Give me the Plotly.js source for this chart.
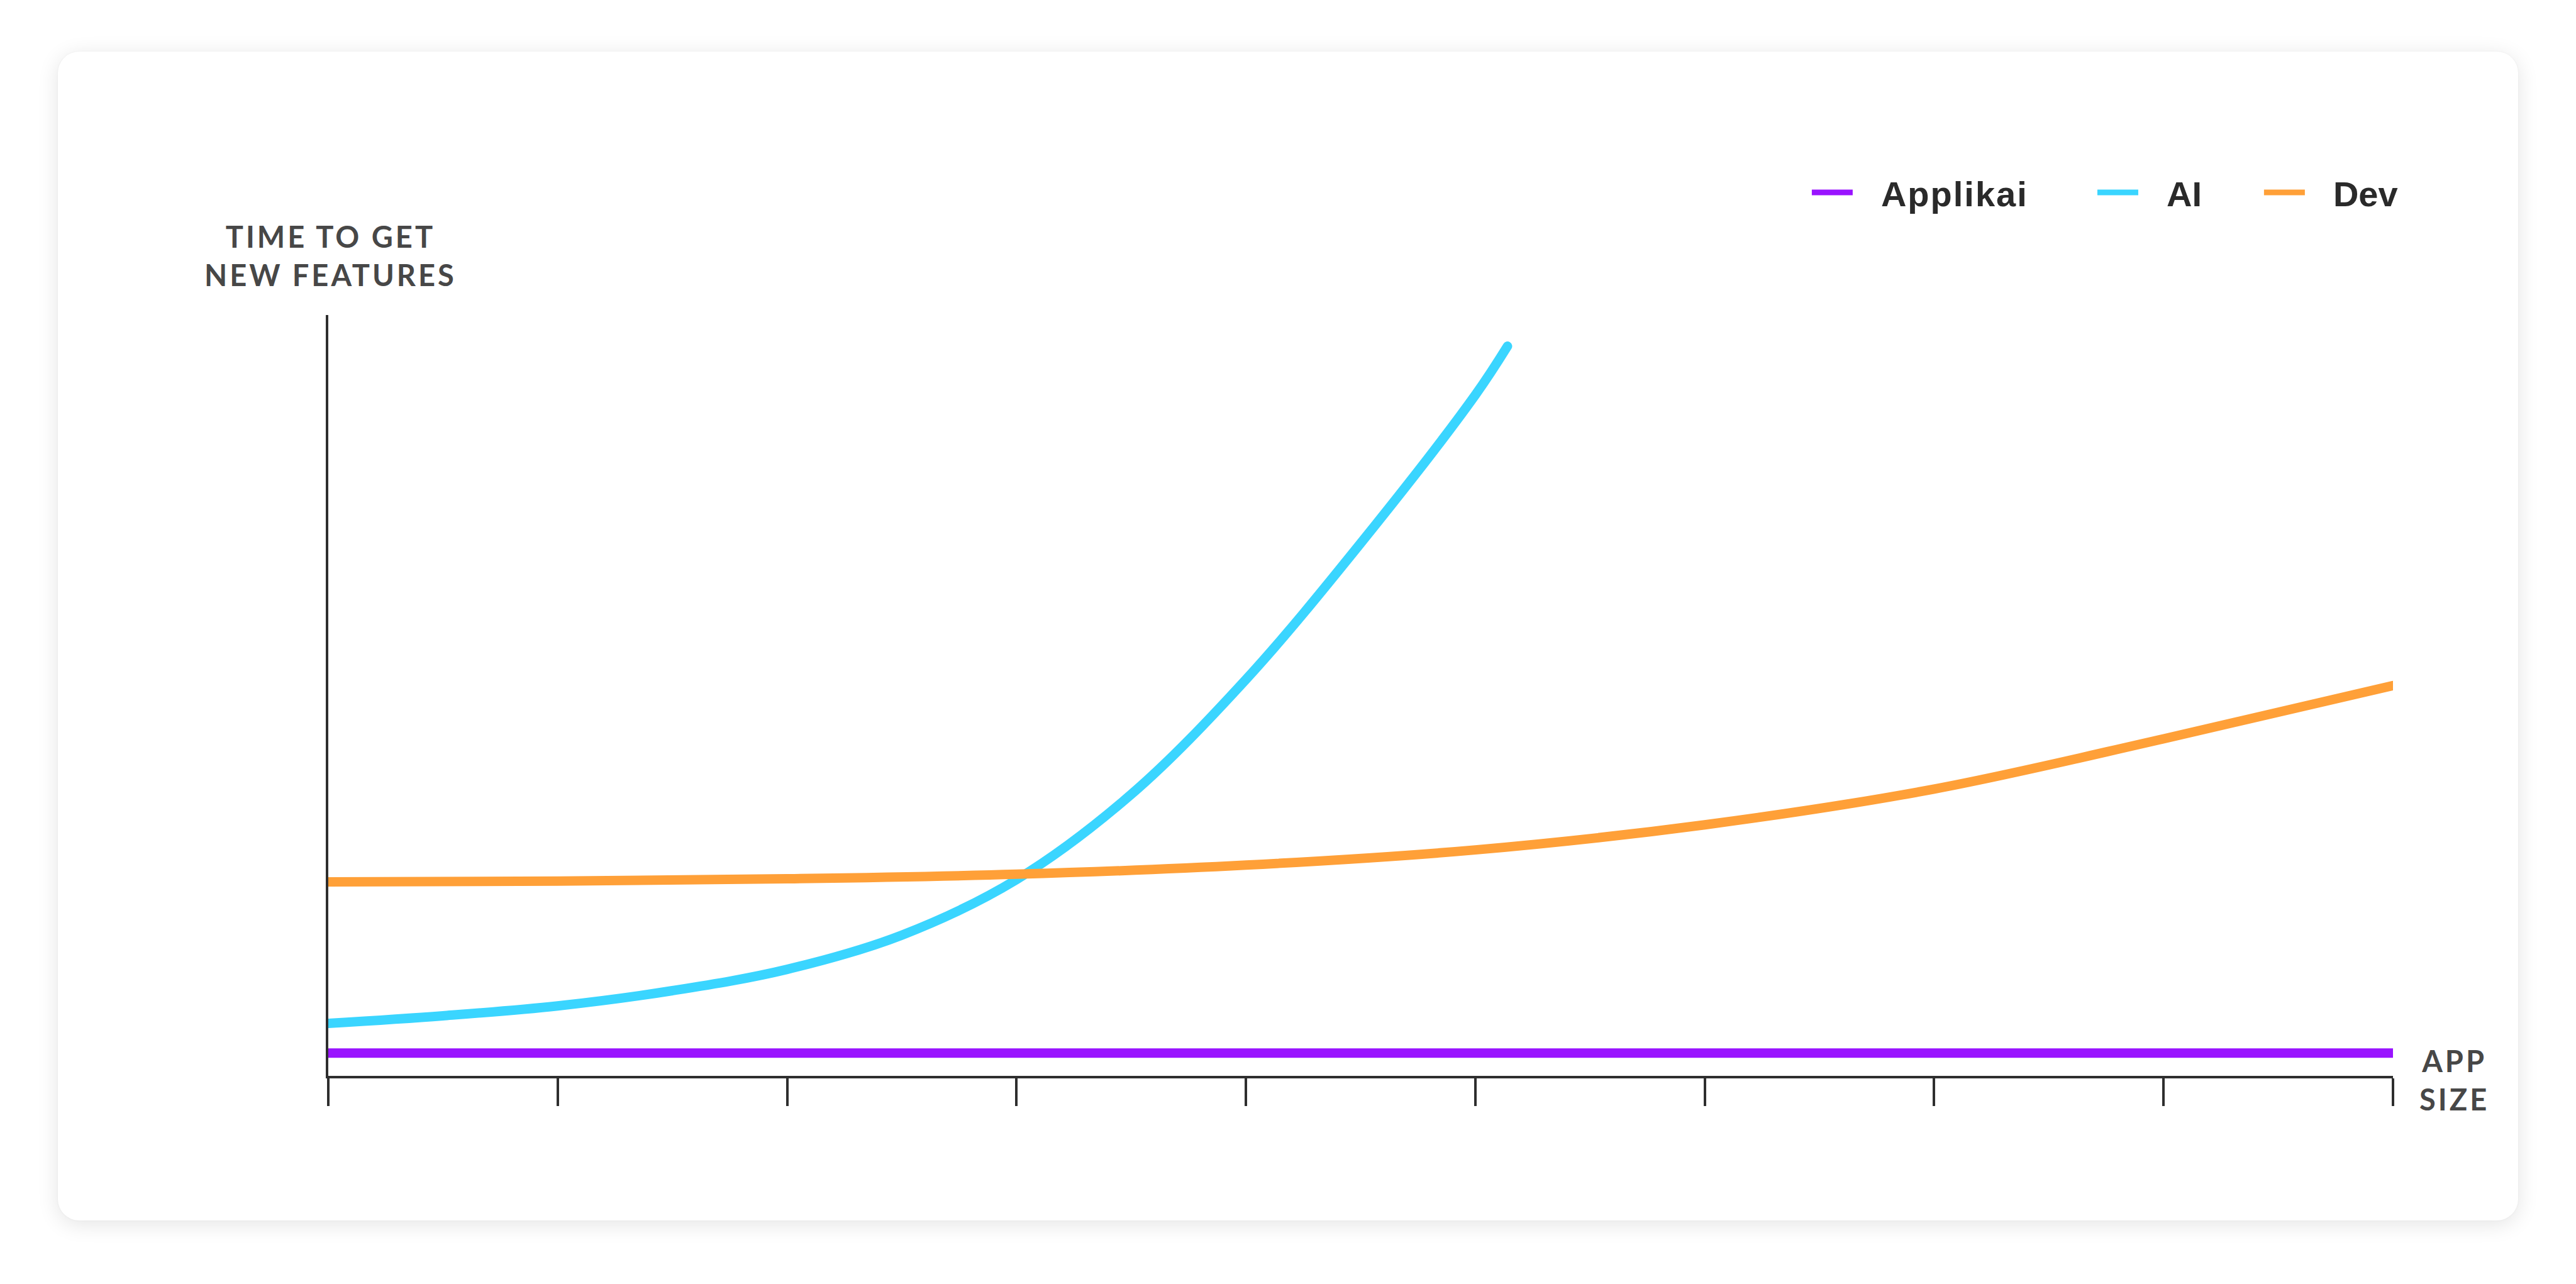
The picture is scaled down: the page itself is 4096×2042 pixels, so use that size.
<!DOCTYPE html>
<html>
<head>
<meta charset="utf-8">
<script src="https://cdn.plot.ly/plotly-3.0.1.min.js"></script>
<style>
  html, body { margin: 0; padding: 0; background: #ffffff; width: 4096px; height: 2042px; overflow: hidden; }
  #card {
    position: absolute; left: 92px; top: 82px; width: 3912px; height: 1859px;
    background: #ffffff; border-radius: 34px;
    box-shadow: 0 6px 34px rgba(0,0,0,0.11), 0 0 3px rgba(0,0,0,0.05);
  }
  #chart { position: absolute; left: 0; top: 0; width: 4096px; height: 2042px; }
  .annotation-text { letter-spacing: 4px; }
  .legendtext { letter-spacing: 2px; }
  g.legendlines path.js-line {
    transform: translate(1.9px, 0px) scaleX(0.619);
    stroke-width: 9px !important;
  }
  .scatterlayer .js-line { stroke-linecap: round; }
</style>
</head>
<body>
<div id="card"></div>
<div id="chart"></div>
<script>
// ---- data ----
const seriesNames = ["Applikai", "AI", "Dev"];
const seriesColors = ["#9913FF", "#3AD5FF", "#FFA038"];

const applikaiX = [0, 9];
const applikaiY = [3.0, 3.0];

const aiX = [0, 0.5, 1, 1.5, 2, 2.5, 3, 3.5, 4, 4.5, 5, 5.14];
const aiY = [6.9, 7.9, 9.2, 11.2, 14.0, 18.5, 25.8, 37.0, 52.1, 70.0, 89.5, 95.9];

const devX = [0, 1, 2, 3, 4, 5, 6, 7, 8, 9];
const devY = [25.5, 25.6, 25.9, 26.5, 27.7, 29.7, 33.0, 37.7, 44.3, 51.3];

const xTickVals = [0, 1, 2, 3, 4, 5, 6, 7, 8, 9];
const yAxisTitle = "TIME TO GET<br>NEW FEATURES";
const xAxisTitle = "APP<br>SIZE";

// ---- styling ----
const axisColor = "#2e2e2e";
const titleColor = "#474747";
const titleFont = { family: "Lato, 'Open Sans', sans-serif", size: 47, color: titleColor, weight: 700 };
const legendFont = { family: "'Liberation Sans', Arial, sans-serif", size: 56, color: "#2a2a2a", weight: 700 };

function mkTrace(name, x, y, color, legendId) {
  return {
    type: "scatter", mode: "lines", name: name, x: x, y: y,
    line: { color: color, width: 15, shape: "spline", smoothing: 1 },
    legend: legendId, hoverinfo: "skip"
  };
}

const data = [
  mkTrace(seriesNames[0], applikaiX, applikaiY, seriesColors[0], "legend"),
  mkTrace(seriesNames[1], aiX, aiY, seriesColors[1], "legend2"),
  mkTrace(seriesNames[2], devX, devY, seriesColors[2], "legend3")
];

function mkLegend(x) {
  return {
    x: x, y: 1.161, xref: "paper", yref: "paper", xanchor: "left", yanchor: "middle",
    orientation: "h", bgcolor: "rgba(0,0,0,0)", borderwidth: 0,
    font: legendFont, itemwidth: 105
  };
}

const layout = {
  width: 4096, height: 2042,
  margin: { l: 522, r: 291, t: 501, b: 331, autoexpand: false },
  paper_bgcolor: "rgba(0,0,0,0)", plot_bgcolor: "rgba(0,0,0,0)",
  showlegend: true,
  hovermode: false,
  legend: mkLegend(0.717),
  legend2: mkLegend(0.8553),
  legend3: mkLegend(0.936),
  xaxis: {
    range: [0, 9], showline: true, linecolor: axisColor, linewidth: 4,
    ticks: "outside", ticklen: 44, tickwidth: 4, tickcolor: axisColor,
    tickmode: "array", tickvals: xTickVals, showticklabels: false,
    showgrid: false, zeroline: false, fixedrange: true
  },
  yaxis: {
    range: [0, 100], showline: true, linecolor: axisColor, linewidth: 4,
    ticks: "", showticklabels: false, showgrid: false, zeroline: false, fixedrange: true
  },
  annotations: [
    { text: yAxisTitle, xref: "paper", yref: "paper", x: 0.001, y: 1.0777,
      xanchor: "center", yanchor: "middle", showarrow: false, align: "center", font: titleFont },
    { text: xAxisTitle, xref: "paper", yref: "paper", x: 1.0298, y: -0.0054,
      xanchor: "center", yanchor: "middle", showarrow: false, align: "center", font: titleFont }
  ]
};

Plotly.newPlot("chart", data, layout, { staticPlot: true, displayModeBar: false });
</script>
</body>
</html>
